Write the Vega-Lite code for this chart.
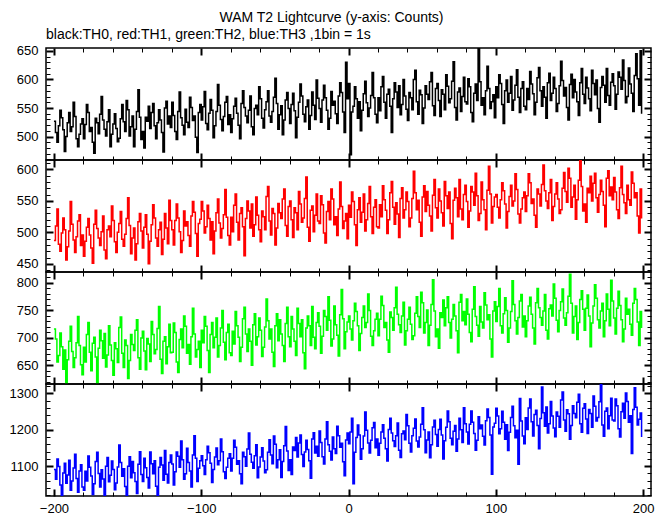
{
"$schema": "https://vega.github.io/schema/vega-lite/v6.json",
"padding": {"left": 8, "top": 11, "right": 14, "bottom": 2},
"title": {"text": "WAM T2 Lightcurve (y-axis: Counts)", "fontSize": 14, "fontWeight": "normal", "font": "Liberation Sans", "anchor": "middle", "offset": 2, "color": "#000"},
"data": {"values": [
{"t":-200,"a":527,"b":487,"c":716,"d":1091},{"t":-199,"a":507,"b":510,"c":698,"d":1064},{"t":-198,"a":490,"b":537,"c":656,"d":1120},{"t":-197,"a":519,"b":481,"c":668,"d":1099},{"t":-196,"a":546,"b":470,"c":709,"d":1048},{"t":-195,"a":533,"b":499,"c":684,"d":1001},{"t":-194,"a":512,"b":523,"c":643,"d":1081},{"t":-193,"a":474,"b":504,"c":678,"d":1108},{"t":-192,"a":500,"b":456,"c":616,"d":1053},{"t":-191,"a":524,"b":477,"c":660,"d":1076},{"t":-190,"a":542,"b":502,"c":694,"d":1116},{"t":-189,"a":509,"b":549,"c":721,"d":1034},{"t":-188,"a":517,"b":513,"c":675,"d":1059},{"t":-187,"a":560,"b":488,"c":646,"d":1095},{"t":-186,"a":535,"b":468,"c":664,"d":1133},{"t":-185,"a":496,"b":493,"c":691,"d":1066},{"t":-184,"a":482,"b":518,"c":739,"d":1028},{"t":-183,"a":504,"b":528,"c":686,"d":1087},{"t":-182,"a":522,"b":479,"c":651,"d":1104},{"t":-181,"a":531,"b":496,"c":633,"d":1043},
{"t":-180,"a":496,"b":462,"c":683,"d":1034},{"t":-179,"a":521,"b":486,"c":656,"d":1086},{"t":-178,"a":556,"b":508,"c":706,"d":1059},{"t":-177,"a":542,"b":522,"c":728,"d":1128},{"t":-176,"a":509,"b":496,"c":674,"d":1097},{"t":-175,"a":516,"b":475,"c":640,"d":1073},{"t":-174,"a":490,"b":451,"c":690,"d":1022},{"t":-173,"a":471,"b":513,"c":701,"d":1052},{"t":-172,"a":532,"b":535,"c":665,"d":1113},{"t":-171,"a":524,"b":506,"c":610,"d":1138},{"t":-170,"a":505,"b":491,"c":681,"d":1080},{"t":-169,"a":539,"b":479,"c":714,"d":1043},{"t":-168,"a":570,"b":501,"c":695,"d":1090},{"t":-167,"a":529,"b":526,"c":663,"d":1065},{"t":-166,"a":513,"b":472,"c":708,"d":1013},{"t":-165,"a":501,"b":458,"c":647,"d":1100},{"t":-164,"a":526,"b":504,"c":669,"d":1124},{"t":-163,"a":547,"b":510,"c":722,"d":1057},{"t":-162,"a":482,"b":493,"c":687,"d":1075},{"t":-161,"a":504,"b":542,"c":659,"d":1114},
{"t":-160,"a":522,"b":519,"c":632,"d":1091},{"t":-159,"a":540,"b":485,"c":691,"d":1035},{"t":-158,"a":514,"b":468,"c":680,"d":1054},{"t":-157,"a":491,"b":500,"c":655,"d":1098},{"t":-156,"a":497,"b":514,"c":719,"d":1158},{"t":-155,"a":531,"b":533,"c":738,"d":1110},{"t":-154,"a":556,"b":489,"c":672,"d":1072},{"t":-153,"a":526,"b":478,"c":646,"d":1093},{"t":-152,"a":509,"b":497,"c":696,"d":1044},{"t":-151,"a":563,"b":522,"c":686,"d":1014},{"t":-150,"a":547,"b":555,"c":626,"d":1100},{"t":-149,"a":501,"b":511,"c":659,"d":1126},{"t":-148,"a":517,"b":466,"c":706,"d":1068},{"t":-147,"a":536,"b":491,"c":688,"d":1113},{"t":-146,"a":482,"b":507,"c":677,"d":1082},{"t":-145,"a":513,"b":456,"c":714,"d":1058},{"t":-144,"a":544,"b":482,"c":733,"d":1025},{"t":-143,"a":582,"b":517,"c":664,"d":1105},{"t":-142,"a":534,"b":530,"c":643,"d":1140},{"t":-141,"a":495,"b":502,"c":700,"d":1077},
{"t":-140,"a":509,"b":475,"c":712,"d":1058},{"t":-139,"a":480,"b":508,"c":676,"d":1122},{"t":-138,"a":534,"b":528,"c":642,"d":1096},{"t":-137,"a":527,"b":497,"c":699,"d":1069},{"t":-136,"a":553,"b":450,"c":689,"d":1040},{"t":-135,"a":514,"b":486,"c":657,"d":1139},{"t":-134,"a":542,"b":512,"c":730,"d":1107},{"t":-133,"a":558,"b":544,"c":706,"d":1079},{"t":-132,"a":519,"b":523,"c":671,"d":1115},{"t":-131,"a":496,"b":491,"c":679,"d":1045},{"t":-130,"a":524,"b":478,"c":717,"d":1012},{"t":-129,"a":547,"b":504,"c":757,"d":1097},{"t":-128,"a":529,"b":516,"c":661,"d":1124},{"t":-127,"a":507,"b":465,"c":635,"d":1103},{"t":-126,"a":473,"b":489,"c":694,"d":1061},{"t":-125,"a":550,"b":530,"c":702,"d":1143},{"t":-124,"a":562,"b":507,"c":653,"d":1078},{"t":-123,"a":522,"b":482,"c":684,"d":1054},{"t":-122,"a":536,"b":551,"c":725,"d":1110},{"t":-121,"a":516,"b":519,"c":673,"d":1131},
{"t":-120,"a":560,"b":504,"c":674,"d":1106},{"t":-119,"a":537,"b":480,"c":727,"d":1048},{"t":-118,"a":509,"b":519,"c":710,"d":1085},{"t":-117,"a":495,"b":545,"c":656,"d":1139},{"t":-116,"a":544,"b":523,"c":637,"d":1127},{"t":-115,"a":578,"b":501,"c":697,"d":1097},{"t":-114,"a":533,"b":468,"c":716,"d":1169},{"t":-113,"a":520,"b":487,"c":682,"d":1118},{"t":-112,"a":503,"b":534,"c":740,"d":1064},{"t":-111,"a":548,"b":510,"c":721,"d":1079},{"t":-110,"a":525,"b":517,"c":672,"d":1149},{"t":-109,"a":516,"b":495,"c":688,"d":1110},{"t":-108,"a":569,"b":478,"c":652,"d":1087},{"t":-107,"a":551,"b":526,"c":702,"d":1043},{"t":-106,"a":528,"b":549,"c":754,"d":1131},{"t":-105,"a":536,"b":532,"c":707,"d":1184},{"t":-104,"a":499,"b":498,"c":665,"d":1122},{"t":-103,"a":472,"b":462,"c":679,"d":1058},{"t":-102,"a":542,"b":514,"c":694,"d":1094},{"t":-101,"a":556,"b":521,"c":646,"d":1115},
{"t":-100,"a":529,"b":549,"c":714,"d":1129},{"t":-99,"a":552,"b":534,"c":691,"d":1101},{"t":-98,"a":579,"b":499,"c":739,"d":1077},{"t":-97,"a":523,"b":509,"c":721,"d":1118},{"t":-96,"a":512,"b":543,"c":677,"d":1155},{"t":-95,"a":541,"b":522,"c":637,"d":1137},{"t":-94,"a":565,"b":488,"c":706,"d":1108},{"t":-93,"a":546,"b":517,"c":728,"d":1055},{"t":-92,"a":498,"b":466,"c":682,"d":1091},{"t":-91,"a":519,"b":502,"c":701,"d":1125},{"t":-90,"a":544,"b":531,"c":736,"d":1150},{"t":-89,"a":591,"b":553,"c":665,"d":1104},{"t":-88,"a":555,"b":515,"c":686,"d":1115},{"t":-87,"a":530,"b":491,"c":718,"d":1175},{"t":-86,"a":510,"b":506,"c":750,"d":1140},{"t":-85,"a":535,"b":528,"c":692,"d":1085},{"t":-84,"a":560,"b":568,"c":660,"d":1066},{"t":-83,"a":570,"b":524,"c":710,"d":1097},{"t":-82,"a":521,"b":495,"c":725,"d":1122},{"t":-81,"a":538,"b":480,"c":673,"d":1134},
{"t":-80,"a":507,"b":524,"c":668,"d":1087},{"t":-79,"a":531,"b":501,"c":712,"d":1122},{"t":-78,"a":553,"b":543,"c":689,"d":1171},{"t":-77,"a":567,"b":561,"c":748,"d":1152},{"t":-76,"a":541,"b":516,"c":722,"d":1105},{"t":-75,"a":520,"b":488,"c":701,"d":1115},{"t":-74,"a":496,"b":530,"c":657,"d":1079},{"t":-73,"a":558,"b":539,"c":683,"d":1052},{"t":-72,"a":580,"b":509,"c":735,"d":1138},{"t":-71,"a":551,"b":463,"c":756,"d":1126},{"t":-70,"a":536,"b":522,"c":707,"d":1100},{"t":-69,"a":524,"b":550,"c":675,"d":1147},{"t":-68,"a":546,"b":534,"c":716,"d":1191},{"t":-67,"a":571,"b":507,"c":694,"d":1133},{"t":-66,"a":517,"b":545,"c":650,"d":1111},{"t":-65,"a":503,"b":494,"c":724,"d":1094},{"t":-64,"a":549,"b":512,"c":744,"d":1129},{"t":-63,"a":555,"b":556,"c":687,"d":1159},{"t":-62,"a":538,"b":527,"c":702,"d":1068},{"t":-61,"a":587,"b":504,"c":736,"d":1098},
{"t":-60,"a":566,"b":485,"c":714,"d":1125},{"t":-59,"a":532,"b":534,"c":666,"d":1151},{"t":-58,"a":515,"b":525,"c":683,"d":1114},{"t":-57,"a":547,"b":504,"c":720,"d":1082},{"t":-56,"a":561,"b":557,"c":771,"d":1090},{"t":-55,"a":580,"b":573,"c":731,"d":1138},{"t":-54,"a":536,"b":518,"c":698,"d":1173},{"t":-53,"a":525,"b":496,"c":716,"d":1131},{"t":-52,"a":544,"b":538,"c":674,"d":1107},{"t":-51,"a":569,"b":530,"c":648,"d":1183},{"t":-50,"a":602,"b":480,"c":722,"d":1160},{"t":-49,"a":558,"b":507,"c":744,"d":1096},{"t":-48,"a":513,"b":546,"c":695,"d":1118},{"t":-47,"a":538,"b":531,"c":733,"d":1145},{"t":-46,"a":554,"b":522,"c":707,"d":1069},{"t":-45,"a":503,"b":553,"c":686,"d":1113},{"t":-44,"a":529,"b":569,"c":657,"d":1156},{"t":-43,"a":564,"b":511,"c":726,"d":1209},{"t":-42,"a":577,"b":494,"c":756,"d":1142},{"t":-41,"a":549,"b":541,"c":702,"d":1088},
{"t":-40,"a":523,"b":550,"c":684,"d":1118},{"t":-39,"a":556,"b":520,"c":739,"d":1077},{"t":-38,"a":576,"b":492,"c":716,"d":1153},{"t":-37,"a":545,"b":539,"c":694,"d":1143},{"t":-36,"a":498,"b":531,"c":668,"d":1179},{"t":-35,"a":534,"b":504,"c":754,"d":1125},{"t":-34,"a":560,"b":565,"c":726,"d":1164},{"t":-33,"a":592,"b":545,"c":702,"d":1186},{"t":-32,"a":571,"b":516,"c":733,"d":1132},{"t":-31,"a":539,"b":523,"c":673,"d":1099},{"t":-30,"a":526,"b":554,"c":644,"d":1139},{"t":-29,"a":552,"b":588,"c":718,"d":1171},{"t":-28,"a":564,"b":508,"c":740,"d":1146},{"t":-27,"a":513,"b":486,"c":722,"d":1115},{"t":-26,"a":537,"b":535,"c":686,"d":1067},{"t":-25,"a":578,"b":542,"c":757,"d":1175},{"t":-24,"a":555,"b":501,"c":701,"d":1192},{"t":-23,"a":530,"b":527,"c":680,"d":1136},{"t":-22,"a":599,"b":561,"c":728,"d":1155},{"t":-21,"a":567,"b":518,"c":746,"d":1127},
{"t":-20,"a":549,"b":514,"c":721,"d":1197},{"t":-19,"a":525,"b":558,"c":672,"d":1165},{"t":-18,"a":564,"b":544,"c":703,"d":1126},{"t":-17,"a":590,"b":499,"c":750,"d":1106},{"t":-16,"a":568,"b":483,"c":739,"d":1175},{"t":-15,"a":546,"b":533,"c":714,"d":1222},{"t":-14,"a":513,"b":549,"c":775,"d":1159},{"t":-13,"a":532,"b":520,"c":732,"d":1141},{"t":-12,"a":579,"b":569,"c":685,"d":1117},{"t":-11,"a":555,"b":553,"c":698,"d":1180},{"t":-10,"a":562,"b":512,"c":758,"d":1148},{"t":-9,"a":540,"b":525,"c":724,"d":1135},{"t":-8,"a":523,"b":495,"c":705,"d":1210},{"t":-7,"a":571,"b":537,"c":667,"d":1184},{"t":-6,"a":594,"b":580,"c":742,"d":1152},{"t":-5,"a":577,"b":541,"c":788,"d":1163},{"t":-4,"a":543,"b":506,"c":735,"d":1112},{"t":-3,"a":507,"b":518,"c":680,"d":1074},{"t":-2,"a":630,"b":530,"c":711,"d":1172},{"t":-1,"a":566,"b":490,"c":729,"d":1191},
{"t":0,"a":593,"b":543,"c":740,"d":1162},{"t":1,"a":468,"b":524,"c":716,"d":1194},{"t":2,"a":543,"b":564,"c":696,"d":1232},{"t":3,"a":553,"b":549,"c":731,"d":1052},{"t":4,"a":587,"b":512,"c":763,"d":1138},{"t":5,"a":566,"b":479,"c":748,"d":1179},{"t":6,"a":532,"b":536,"c":722,"d":1213},{"t":7,"a":561,"b":555,"c":677,"d":1186},{"t":8,"a":510,"b":516,"c":708,"d":1119},{"t":9,"a":546,"b":532,"c":737,"d":1148},{"t":10,"a":575,"b":561,"c":758,"d":1183},{"t":11,"a":597,"b":502,"c":719,"d":1249},{"t":12,"a":559,"b":520,"c":728,"d":1199},{"t":13,"a":535,"b":546,"c":780,"d":1164},{"t":14,"a":550,"b":573,"c":750,"d":1136},{"t":15,"a":572,"b":525,"c":703,"d":1171},{"t":16,"a":612,"b":498,"c":686,"d":1206},{"t":17,"a":568,"b":540,"c":713,"d":1220},{"t":18,"a":539,"b":552,"c":734,"d":1151},{"t":19,"a":524,"b":509,"c":745,"d":1175},
{"t":20,"a":568,"b":507,"c":704,"d":1130},{"t":21,"a":545,"b":544,"c":734,"d":1163},{"t":22,"a":587,"b":525,"c":776,"d":1194},{"t":23,"a":605,"b":574,"c":759,"d":1214},{"t":24,"a":560,"b":552,"c":719,"d":1177},{"t":25,"a":532,"b":535,"c":728,"d":1148},{"t":26,"a":574,"b":498,"c":696,"d":1114},{"t":27,"a":583,"b":520,"c":674,"d":1201},{"t":28,"a":553,"b":563,"c":747,"d":1232},{"t":29,"a":507,"b":581,"c":737,"d":1191},{"t":30,"a":566,"b":540,"c":714,"d":1170},{"t":31,"a":594,"b":513,"c":755,"d":1154},{"t":32,"a":578,"b":547,"c":792,"d":1184},{"t":33,"a":551,"b":529,"c":743,"d":1219},{"t":34,"a":589,"b":492,"c":724,"d":1144},{"t":35,"a":538,"b":554,"c":710,"d":1124},{"t":36,"a":556,"b":571,"c":740,"d":1189},{"t":37,"a":600,"b":523,"c":765,"d":1197},{"t":38,"a":571,"b":536,"c":687,"d":1173},{"t":39,"a":548,"b":564,"c":713,"d":1242},
{"t":40,"a":528,"b":549,"c":734,"d":1211},{"t":41,"a":577,"b":509,"c":756,"d":1163},{"t":42,"a":568,"b":523,"c":725,"d":1139},{"t":43,"a":547,"b":554,"c":697,"d":1184},{"t":44,"a":600,"b":597,"c":704,"d":1204},{"t":45,"a":616,"b":563,"c":745,"d":1230},{"t":46,"a":561,"b":536,"c":775,"d":1169},{"t":47,"a":539,"b":551,"c":739,"d":1153},{"t":48,"a":581,"b":516,"c":719,"d":1180},{"t":49,"a":573,"b":494,"c":783,"d":1215},{"t":50,"a":523,"b":556,"c":764,"d":1261},{"t":51,"a":550,"b":574,"c":709,"d":1200},{"t":52,"a":589,"b":533,"c":728,"d":1137},{"t":53,"a":574,"b":565,"c":751,"d":1172},{"t":54,"a":565,"b":543,"c":686,"d":1194},{"t":55,"a":596,"b":526,"c":723,"d":1123},{"t":56,"a":612,"b":502,"c":761,"d":1159},{"t":57,"a":554,"b":559,"c":806,"d":1208},{"t":58,"a":537,"b":584,"c":749,"d":1226},{"t":59,"a":584,"b":539,"c":702,"d":1187},
{"t":60,"a":593,"b":523,"c":716,"d":1155},{"t":61,"a":563,"b":569,"c":681,"d":1201},{"t":62,"a":535,"b":550,"c":746,"d":1229},{"t":63,"a":582,"b":531,"c":737,"d":1186},{"t":64,"a":574,"b":510,"c":769,"d":1120},{"t":65,"a":547,"b":581,"c":722,"d":1170},{"t":66,"a":608,"b":558,"c":755,"d":1207},{"t":67,"a":588,"b":538,"c":775,"d":1252},{"t":68,"a":559,"b":564,"c":728,"d":1222},{"t":69,"a":566,"b":514,"c":700,"d":1177},{"t":70,"a":597,"b":490,"c":734,"d":1159},{"t":71,"a":631,"b":551,"c":761,"d":1196},{"t":72,"a":551,"b":570,"c":740,"d":1212},{"t":73,"a":529,"b":555,"c":713,"d":1141},{"t":74,"a":578,"b":525,"c":673,"d":1175},{"t":75,"a":585,"b":584,"c":765,"d":1232},{"t":76,"a":544,"b":537,"c":779,"d":1200},{"t":77,"a":570,"b":520,"c":731,"d":1165},{"t":78,"a":604,"b":560,"c":748,"d":1261},{"t":79,"a":561,"b":575,"c":724,"d":1217},
{"t":80,"a":557,"b":549,"c":771,"d":1194},{"t":81,"a":601,"b":508,"c":743,"d":1161},{"t":82,"a":587,"b":534,"c":710,"d":1215},{"t":83,"a":542,"b":573,"c":693,"d":1252},{"t":84,"a":526,"b":564,"c":752,"d":1221},{"t":85,"a":576,"b":543,"c":793,"d":1190},{"t":86,"a":592,"b":594,"c":739,"d":1144},{"t":87,"a":563,"b":558,"c":723,"d":1171},{"t":88,"a":655,"b":519,"c":703,"d":1236},{"t":89,"a":596,"b":530,"c":757,"d":1203},{"t":90,"a":555,"b":580,"c":729,"d":1213},{"t":91,"a":568,"b":552,"c":718,"d":1182},{"t":92,"a":538,"b":536,"c":782,"d":1158},{"t":93,"a":580,"b":504,"c":760,"d":1225},{"t":94,"a":623,"b":567,"c":733,"d":1257},{"t":95,"a":584,"b":605,"c":742,"d":1234},{"t":96,"a":549,"b":561,"c":698,"d":1186},{"t":97,"a":561,"b":515,"c":665,"d":1078},{"t":98,"a":573,"b":541,"c":749,"d":1208},{"t":99,"a":533,"b":556,"c":766,"d":1218},
{"t":100,"a":587,"b":560,"c":730,"d":1259},{"t":101,"a":568,"b":540,"c":757,"d":1238},{"t":102,"a":608,"b":523,"c":790,"d":1189},{"t":103,"a":593,"b":552,"c":722,"d":1203},{"t":104,"a":556,"b":579,"c":709,"d":1251},{"t":105,"a":523,"b":566,"c":744,"d":1221},{"t":106,"a":580,"b":545,"c":773,"d":1174},{"t":107,"a":599,"b":507,"c":750,"d":1214},{"t":108,"a":560,"b":533,"c":692,"d":1143},{"t":109,"a":576,"b":557,"c":718,"d":1193},{"t":110,"a":605,"b":575,"c":748,"d":1234},{"t":111,"a":546,"b":542,"c":804,"d":1265},{"t":112,"a":564,"b":550,"c":761,"d":1211},{"t":113,"a":590,"b":593,"c":731,"d":1178},{"t":114,"a":617,"b":568,"c":707,"d":1199},{"t":115,"a":569,"b":529,"c":737,"d":1105},{"t":116,"a":542,"b":515,"c":767,"d":1286},{"t":117,"a":584,"b":537,"c":779,"d":1224},{"t":118,"a":596,"b":555,"c":720,"d":1183},{"t":119,"a":553,"b":564,"c":740,"d":1162},
{"t":120,"a":547,"b":533,"c":702,"d":1233},{"t":121,"a":584,"b":558,"c":731,"d":1201},{"t":122,"a":565,"b":593,"c":758,"d":1260},{"t":123,"a":614,"b":579,"c":774,"d":1285},{"t":124,"a":592,"b":546,"c":743,"d":1222},{"t":125,"a":575,"b":553,"c":718,"d":1183},{"t":126,"a":538,"b":527,"c":689,"d":1242},{"t":127,"a":560,"b":508,"c":764,"d":1254},{"t":128,"a":603,"b":569,"c":790,"d":1212},{"t":129,"a":621,"b":561,"c":755,"d":1148},{"t":130,"a":580,"b":542,"c":737,"d":1231},{"t":131,"a":553,"b":576,"c":723,"d":1318},{"t":132,"a":587,"b":607,"c":749,"d":1247},{"t":133,"a":569,"b":566,"c":779,"d":1210},{"t":134,"a":532,"b":550,"c":714,"d":1263},{"t":135,"a":594,"b":538,"c":698,"d":1191},{"t":136,"a":611,"b":563,"c":753,"d":1217},{"t":137,"a":563,"b":584,"c":760,"d":1278},{"t":138,"a":576,"b":519,"c":740,"d":1238},{"t":139,"a":604,"b":541,"c":798,"d":1205},
{"t":140,"a":584,"b":561,"c":772,"d":1181},{"t":141,"a":544,"b":579,"c":732,"d":1249},{"t":142,"a":558,"b":553,"c":711,"d":1237},{"t":143,"a":589,"b":530,"c":750,"d":1207},{"t":144,"a":632,"b":536,"c":766,"d":1282},{"t":145,"a":598,"b":570,"c":789,"d":1304},{"t":146,"a":571,"b":595,"c":736,"d":1227},{"t":147,"a":586,"b":565,"c":723,"d":1196},{"t":148,"a":551,"b":548,"c":746,"d":1255},{"t":149,"a":529,"b":602,"c":776,"d":1244},{"t":150,"a":591,"b":586,"c":816,"d":1174},{"t":151,"a":609,"b":540,"c":763,"d":1212},{"t":152,"a":568,"b":556,"c":709,"d":1266},{"t":153,"a":600,"b":575,"c":739,"d":1245},{"t":154,"a":578,"b":521,"c":758,"d":1233},{"t":155,"a":561,"b":552,"c":697,"d":1276},{"t":156,"a":537,"b":583,"c":728,"d":1298},{"t":157,"a":594,"b":621,"c":770,"d":1217},{"t":158,"a":619,"b":573,"c":786,"d":1193},{"t":159,"a":574,"b":534,"c":752,"d":1259},
{"t":160,"a":558,"b":545,"c":714,"d":1272},{"t":161,"a":604,"b":516,"c":754,"d":1230},{"t":162,"a":585,"b":570,"c":778,"d":1190},{"t":163,"a":566,"b":563,"c":740,"d":1256},{"t":164,"a":545,"b":589,"c":684,"d":1245},{"t":165,"a":616,"b":550,"c":727,"d":1207},{"t":166,"a":593,"b":578,"c":758,"d":1293},{"t":167,"a":573,"b":594,"c":797,"d":1265},{"t":168,"a":599,"b":555,"c":772,"d":1224},{"t":169,"a":549,"b":532,"c":733,"d":1234},{"t":170,"a":525,"b":560,"c":718,"d":1277},{"t":171,"a":586,"b":583,"c":749,"d":1325},{"t":172,"a":605,"b":565,"c":763,"d":1213},{"t":173,"a":590,"b":543,"c":702,"d":1182},{"t":174,"a":560,"b":509,"c":731,"d":1251},{"t":175,"a":619,"b":586,"c":780,"d":1260},{"t":176,"a":572,"b":598,"c":752,"d":1203},{"t":177,"a":555,"b":558,"c":722,"d":1239},{"t":178,"a":595,"b":572,"c":805,"d":1287},{"t":179,"a":610,"b":552,"c":767,"d":1227},
{"t":180,"a":589,"b":587,"c":736,"d":1224},{"t":181,"a":548,"b":564,"c":707,"d":1285},{"t":182,"a":574,"b":536,"c":754,"d":1266},{"t":183,"a":613,"b":522,"c":785,"d":1203},{"t":184,"a":604,"b":571,"c":759,"d":1180},{"t":185,"a":583,"b":605,"c":733,"d":1250},{"t":186,"a":634,"b":560,"c":693,"d":1273},{"t":187,"a":598,"b":547,"c":716,"d":1232},{"t":188,"a":559,"b":530,"c":772,"d":1301},{"t":189,"a":570,"b":575,"c":743,"d":1278},{"t":190,"a":620,"b":552,"c":752,"d":1221},{"t":191,"a":592,"b":543,"c":725,"d":1239},{"t":192,"a":576,"b":596,"c":705,"d":1135},{"t":193,"a":544,"b":578,"c":763,"d":1256},{"t":194,"a":607,"b":555,"c":790,"d":1316},{"t":195,"a":645,"b":563,"c":770,"d":1262},{"t":196,"a":601,"b":526,"c":729,"d":1213},{"t":197,"a":555,"b":499,"c":686,"d":1229},{"t":198,"a":650,"b":569,"c":748,"d":1246},{"t":199,"a":540,"b":522,"c":718,"d":1180}
]},
"spacing": 0,
"bounds": "flush",
"vconcat": [
{"width": 605, "height": 112,
 "title": {"text": "black:TH0, red:TH1, green:TH2, blue:TH3 ,1bin = 1s", "anchor": "start", "frame": "group", "fontSize": 14, "fontWeight": "normal", "font": "Liberation Sans", "offset": 3, "color": "#000"},
 "layer": [
  {"mark": {"type": "line", "interpolate": "step-after", "stroke": "#000000", "strokeWidth": 1.5, "clip": true},
   "encoding": {
    "x": {"field": "t", "type": "quantitative", "scale": {"domain": [-205.4, 205.4], "nice": false, "zero": false},
          "axis": {"orient": "bottom", "title": null, "labels": false, "values": [-200,-180,-160,-140,-120,-100,-80,-60,-40,-20,0,20,40,60,80,100,120,140,160,180,200], "tickSize": {"condition": {"test": "datum.value % 100 === 0", "value": -7}, "value": -4}, "tickWidth": {"condition": {"test": "datum.value % 100 === 0", "value": 2}, "value": 1}}},
    "y": {"field": "a", "type": "quantitative", "scale": {"domain": [459, 655], "nice": false, "zero": false},
          "axis": {"orient": "left", "title": null, "format": "d", "values": [460,470,480,490,500,510,520,530,540,550,560,570,580,590,600,610,620,630,640,650], "labelExpr": "datum.value % 50 === 0 ? datum.label : ''", "labelPadding": 15, "tickSize": {"condition": {"test": "datum.value % 50 === 0", "value": -7}, "value": -4}, "tickWidth": {"condition": {"test": "datum.value % 50 === 0", "value": 2}, "value": 1}}}
   }},
  {"mark": {"type": "line", "interpolate": "step-after", "strokeOpacity": 0},
   "encoding": {
    "x": {"field": "t", "type": "quantitative", "axis": {"orient": "top", "title": null, "labels": false, "values": [-200,-180,-160,-140,-120,-100,-80,-60,-40,-20,0,20,40,60,80,100,120,140,160,180,200], "tickSize": {"condition": {"test": "datum.value % 100 === 0", "value": -7}, "value": -4}, "tickWidth": {"condition": {"test": "datum.value % 100 === 0", "value": 2}, "value": 1}}},
    "y": {"field": "a", "type": "quantitative", "axis": {"orient": "right", "title": null, "labels": false, "values": [460,470,480,490,500,510,520,530,540,550,560,570,580,590,600,610,620,630,640,650], "tickSize": {"condition": {"test": "datum.value % 50 === 0", "value": -7}, "value": -4}, "tickWidth": {"condition": {"test": "datum.value % 50 === 0", "value": 2}, "value": 1}}}
   }}
 ],
 "resolve": {"axis": {"x": "independent", "y": "independent"}}
},
{"width": 605, "height": 112,
 "layer": [
  {"mark": {"type": "line", "interpolate": "step-after", "stroke": "#ff0000", "strokeWidth": 1.5, "clip": true},
   "encoding": {
    "x": {"field": "t", "type": "quantitative", "scale": {"domain": [-205.4, 205.4], "nice": false, "zero": false},
          "axis": {"orient": "bottom", "title": null, "labels": false, "values": [-200,-180,-160,-140,-120,-100,-80,-60,-40,-20,0,20,40,60,80,100,120,140,160,180,200], "tickSize": {"condition": {"test": "datum.value % 100 === 0", "value": -7}, "value": -4}, "tickWidth": {"condition": {"test": "datum.value % 100 === 0", "value": 2}, "value": 1}}},
    "y": {"field": "b", "type": "quantitative", "scale": {"domain": [437, 615], "nice": false, "zero": false},
          "axis": {"orient": "left", "title": null, "format": "d", "values": [440,450,460,470,480,490,500,510,520,530,540,550,560,570,580,590,600,610], "labelExpr": "datum.value % 50 === 0 ? datum.label : ''", "labelPadding": 15, "tickSize": {"condition": {"test": "datum.value % 50 === 0", "value": -7}, "value": -4}, "tickWidth": {"condition": {"test": "datum.value % 50 === 0", "value": 2}, "value": 1}}}
   }},
  {"mark": {"type": "line", "interpolate": "step-after", "strokeOpacity": 0},
   "encoding": {
    "x": {"field": "t", "type": "quantitative", "axis": {"orient": "top", "title": null, "labels": false, "values": [-200,-180,-160,-140,-120,-100,-80,-60,-40,-20,0,20,40,60,80,100,120,140,160,180,200], "tickSize": {"condition": {"test": "datum.value % 100 === 0", "value": -7}, "value": -4}, "tickWidth": {"condition": {"test": "datum.value % 100 === 0", "value": 2}, "value": 1}}},
    "y": {"field": "b", "type": "quantitative", "axis": {"orient": "right", "title": null, "labels": false, "values": [440,450,460,470,480,490,500,510,520,530,540,550,560,570,580,590,600,610], "tickSize": {"condition": {"test": "datum.value % 50 === 0", "value": -7}, "value": -4}, "tickWidth": {"condition": {"test": "datum.value % 50 === 0", "value": 2}, "value": 1}}}
   }}
 ],
 "resolve": {"axis": {"x": "independent", "y": "independent"}}
},
{"width": 605, "height": 112,
 "layer": [
  {"mark": {"type": "line", "interpolate": "step-after", "stroke": "#00ff00", "strokeWidth": 1.5, "clip": true},
   "encoding": {
    "x": {"field": "t", "type": "quantitative", "scale": {"domain": [-205.4, 205.4], "nice": false, "zero": false},
          "axis": {"orient": "bottom", "title": null, "labels": false, "values": [-200,-180,-160,-140,-120,-100,-80,-60,-40,-20,0,20,40,60,80,100,120,140,160,180,200], "tickSize": {"condition": {"test": "datum.value % 100 === 0", "value": -7}, "value": -4}, "tickWidth": {"condition": {"test": "datum.value % 100 === 0", "value": 2}, "value": 1}}},
    "y": {"field": "c", "type": "quantitative", "scale": {"domain": [616, 820], "nice": false, "zero": false},
          "axis": {"orient": "left", "title": null, "format": "d", "values": [620,630,640,650,660,670,680,690,700,710,720,730,740,750,760,770,780,790,800,810], "labelExpr": "datum.value % 50 === 0 ? datum.label : ''", "labelPadding": 15, "tickSize": {"condition": {"test": "datum.value % 50 === 0", "value": -7}, "value": -4}, "tickWidth": {"condition": {"test": "datum.value % 50 === 0", "value": 2}, "value": 1}}}
   }},
  {"mark": {"type": "line", "interpolate": "step-after", "strokeOpacity": 0},
   "encoding": {
    "x": {"field": "t", "type": "quantitative", "axis": {"orient": "top", "title": null, "labels": false, "values": [-200,-180,-160,-140,-120,-100,-80,-60,-40,-20,0,20,40,60,80,100,120,140,160,180,200], "tickSize": {"condition": {"test": "datum.value % 100 === 0", "value": -7}, "value": -4}, "tickWidth": {"condition": {"test": "datum.value % 100 === 0", "value": 2}, "value": 1}}},
    "y": {"field": "c", "type": "quantitative", "axis": {"orient": "right", "title": null, "labels": false, "values": [620,630,640,650,660,670,680,690,700,710,720,730,740,750,760,770,780,790,800,810], "tickSize": {"condition": {"test": "datum.value % 50 === 0", "value": -7}, "value": -4}, "tickWidth": {"condition": {"test": "datum.value % 50 === 0", "value": 2}, "value": 1}}}
   }}
 ],
 "resolve": {"axis": {"x": "independent", "y": "independent"}}
},
{"width": 605, "height": 112,
 "layer": [
  {"mark": {"type": "line", "interpolate": "step-after", "stroke": "#0000ff", "strokeWidth": 1.5, "clip": true},
   "encoding": {
    "x": {"field": "t", "type": "quantitative", "scale": {"domain": [-205.4, 205.4], "nice": false, "zero": false},
          "axis": {"orient": "bottom", "title": null, "format": "d", "values": [-200,-180,-160,-140,-120,-100,-80,-60,-40,-20,0,20,40,60,80,100,120,140,160,180,200], "labelExpr": "datum.value % 100 === 0 ? datum.label : ''", "labelPadding": 13, "tickSize": {"condition": {"test": "datum.value % 100 === 0", "value": -7}, "value": -4}, "tickWidth": {"condition": {"test": "datum.value % 100 === 0", "value": 2}, "value": 1}}},
    "y": {"field": "d", "type": "quantitative", "scale": {"domain": [1018, 1326], "nice": false, "zero": false},
          "axis": {"orient": "left", "title": null, "format": "d", "values": [1020,1040,1060,1080,1100,1120,1140,1160,1180,1200,1220,1240,1260,1280,1300,1320], "labelExpr": "datum.value % 100 === 0 ? datum.label : ''", "labelPadding": 15, "tickSize": {"condition": {"test": "datum.value % 100 === 0", "value": -7}, "value": -4}, "tickWidth": {"condition": {"test": "datum.value % 100 === 0", "value": 2}, "value": 1}}}
   }},
  {"mark": {"type": "line", "interpolate": "step-after", "strokeOpacity": 0},
   "encoding": {
    "x": {"field": "t", "type": "quantitative", "axis": {"orient": "top", "title": null, "labels": false, "values": [-200,-180,-160,-140,-120,-100,-80,-60,-40,-20,0,20,40,60,80,100,120,140,160,180,200], "tickSize": {"condition": {"test": "datum.value % 100 === 0", "value": -7}, "value": -4}, "tickWidth": {"condition": {"test": "datum.value % 100 === 0", "value": 2}, "value": 1}}},
    "y": {"field": "d", "type": "quantitative", "axis": {"orient": "right", "title": null, "labels": false, "values": [1020,1040,1060,1080,1100,1120,1140,1160,1180,1200,1220,1240,1260,1280,1300,1320], "tickSize": {"condition": {"test": "datum.value % 100 === 0", "value": -7}, "value": -4}, "tickWidth": {"condition": {"test": "datum.value % 100 === 0", "value": 2}, "value": 1}}}
   }}
 ],
 "resolve": {"axis": {"x": "independent", "y": "independent"}}
}
],
"config": {
 "font": "Liberation Sans",
 "view": {"stroke": "#000000", "strokeWidth": 1.5},
 "axis": {"labelFont": "Liberation Sans", "labelFontSize": 13, "labelColor": "#000000", "tickColor": "#000000", "domain": false, "grid": false, "labelOverlap": false, "labelFlush": false, "labelBound": false},
 "line": {"strokeJoin": "miter"}
}
}
